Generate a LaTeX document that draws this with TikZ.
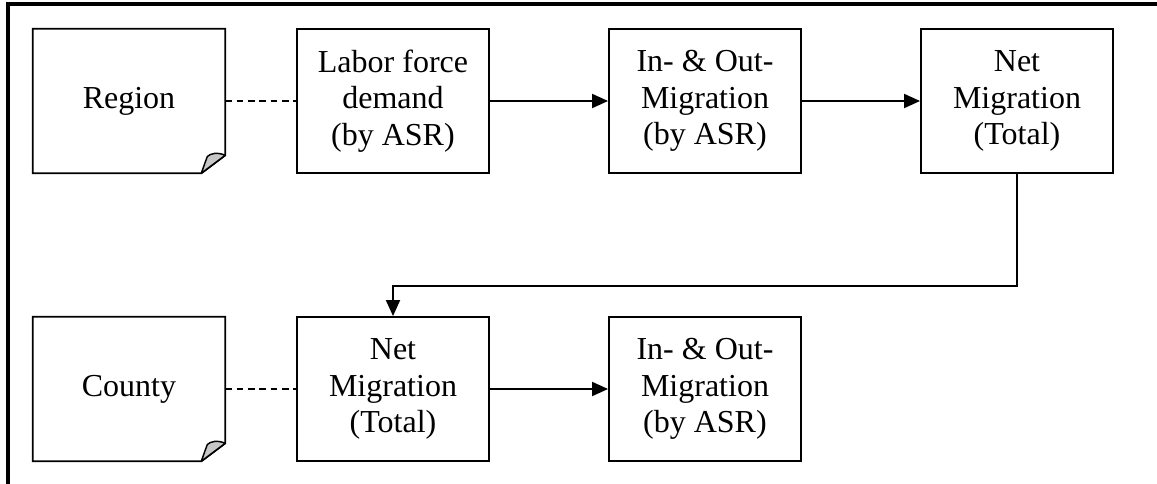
\documentclass[tikz,border=0pt]{standalone}
\usepackage{fontspec}
\setmainfont{Liberation Serif}
\usetikzlibrary{arrows.meta}

\begin{document}
\begin{tikzpicture}[x=0.75pt,y=-0.75pt,
  every node/.style={font=\fontsize{24}{27.5}\selectfont, align=center},
  stepbox/.style={draw, line width=1.4pt, minimum width=144pt, minimum height=108pt, inner sep=0pt},
  docbox/.style={minimum width=144pt, minimum height=108pt, inner sep=0pt},
  outline/.style={line width=1.4pt, line join=miter},
  flap/.style={line width=1.1pt, fill=black!22, line join=round},
  link/.style={line width=1.4pt, dash pattern=on 5pt off 3.5pt},
  flow/.style={line width=1.4pt, -{Triangle[length=12pt,width=10.5pt]}},
  frame/.style={line width=2.3pt}
]
\useasboundingbox (0,0) rectangle (1157,484);

% enclosing frame (top and left edges only lie inside the page)
\draw[frame] (8,500) -- (8,4) -- (1170,4);

% document-shaped boxes with a curled lower-right corner
\newcommand{\docshape}[1]{%
  \draw[outline] (#1.north west) -- (#1.north east)
    -- ([yshift=13.5pt]#1.south east) -- ([xshift=-18pt]#1.south east)
    -- (#1.south west) -- cycle;
  \draw[flap] ([yshift=13.5pt]#1.south east)
    .. controls ([xshift=-6pt,yshift=16pt]#1.south east) and ([xshift=-11pt,yshift=15pt]#1.south east)
    .. ([xshift=-13.5pt,yshift=12.5pt]#1.south east)
    -- ([xshift=-18pt]#1.south east) -- cycle;
}

% upper row
\node[docbox]  (reg)  at (129,101) {Region};
\node[stepbox] (lab)  at (393,101) {Labor force\\demand\\(by ASR)};
\node[stepbox] (io1)  at (705,101) {In- \& Out-\\Migration\\(by ASR)};
\node[stepbox] (net1) at (1017,101) {Net\\Migration\\(Total)};

% lower row
\node[docbox]  (cty)  at (129,389) {County};
\node[stepbox] (net2) at (393,389) {Net\\Migration\\(Total)};
\node[stepbox] (io2)  at (705,389) {In- \& Out-\\Migration\\(by ASR)};

\docshape{reg}
\docshape{cty}

\coordinate (bend) at (700,286);

% connectors
\draw[link] (reg.east) -- (lab.west);
\draw[flow] (lab) -- (io1);
\draw[flow] (io1) -- (net1);
\draw[flow] (net1.south) |- (bend) -| (net2.north);
\draw[link] (cty.east) -- (net2.west);
\draw[flow] (net2) -- (io2);
\end{tikzpicture}
\end{document}
